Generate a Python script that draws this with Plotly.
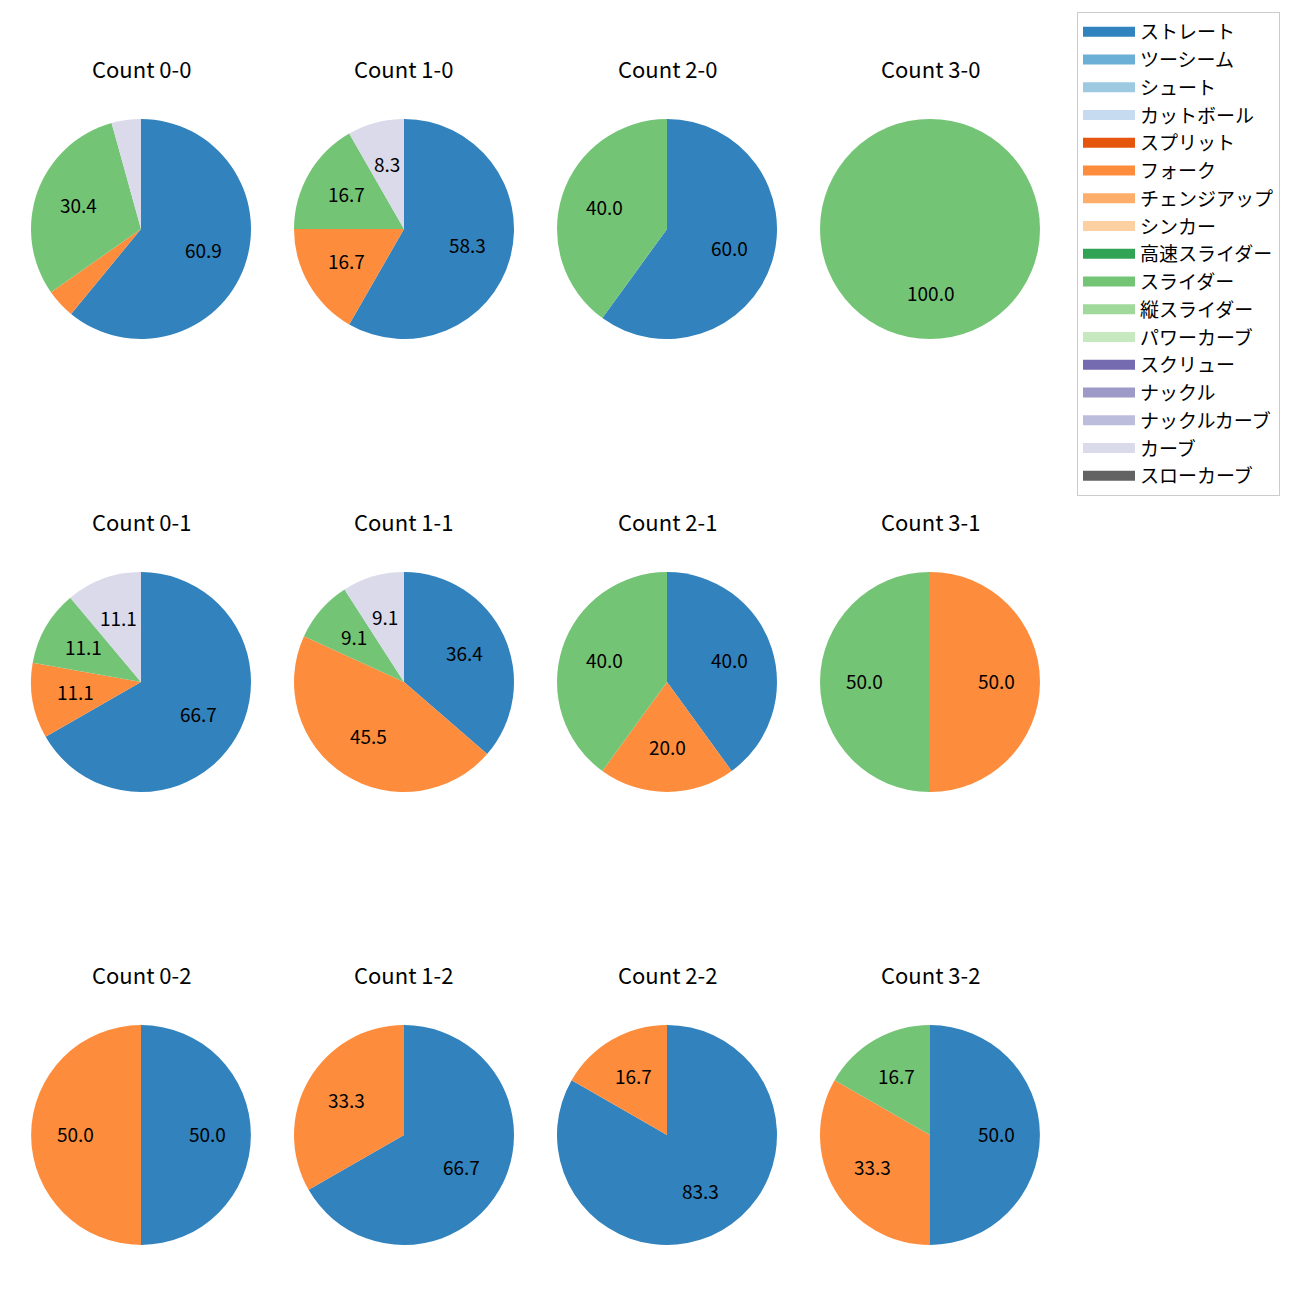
import math
import plotly.graph_objects as go

# ---------------- data ----------------
pitch_types = ["ストレート", "ツーシーム", "シュート", "カットボール", "スプリット", "フォーク",
               "チェンジアップ", "シンカー", "高速スライダー", "スライダー", "縦スライダー",
               "パワーカーブ", "スクリュー", "ナックル", "ナックルカーブ", "カーブ", "スローカーブ"]
pitch_colors = ["#3182bd", "#6baed6", "#9ecae1", "#c6dbef", "#e6550d", "#fd8d3c",
                "#fdae6b", "#fdd0a2", "#31a354", "#74c476", "#a1d99b", "#c7e9c0",
                "#756bb1", "#9e9ac8", "#bcbddc", "#dadaeb", "#636363"]

count_titles = ["Count 0-0", "Count 1-0", "Count 2-0", "Count 3-0",
                "Count 0-1", "Count 1-1", "Count 2-1", "Count 3-1",
                "Count 0-2", "Count 1-2", "Count 2-2", "Count 3-2"]

labels_00 = ["ストレート", "フォーク", "スライダー", "カーブ"]
values_00 = [60.9, 4.3, 30.4, 4.3]
labels_10 = ["ストレート", "フォーク", "スライダー", "カーブ"]
values_10 = [58.3, 16.7, 16.7, 8.3]
labels_20 = ["ストレート", "スライダー"]
values_20 = [60.0, 40.0]
labels_30 = ["スライダー"]
values_30 = [100.0]
labels_01 = ["ストレート", "フォーク", "スライダー", "カーブ"]
values_01 = [66.7, 11.1, 11.1, 11.1]
labels_11 = ["ストレート", "フォーク", "スライダー", "カーブ"]
values_11 = [36.4, 45.5, 9.1, 9.1]
labels_21 = ["ストレート", "フォーク", "スライダー"]
values_21 = [40.0, 20.0, 40.0]
labels_31 = ["フォーク", "スライダー"]
values_31 = [50.0, 50.0]
labels_02 = ["ストレート", "フォーク"]
values_02 = [50.0, 50.0]
labels_12 = ["ストレート", "フォーク"]
values_12 = [66.7, 33.3]
labels_22 = ["ストレート", "フォーク"]
values_22 = [83.3, 16.7]
labels_32 = ["ストレート", "フォーク", "スライダー"]
values_32 = [50.0, 33.3, 16.7]

all_labels = [labels_00, labels_10, labels_20, labels_30,
              labels_01, labels_11, labels_21, labels_31,
              labels_02, labels_12, labels_22, labels_32]
all_values = [values_00, values_10, values_20, values_30,
              values_01, values_11, values_21, values_31,
              values_02, values_12, values_22, values_32]

# ---------------- layout ----------------
W = H = 1300
FONT = "Noto Sans CJK JP"
col_cx = [141, 404, 667, 930]
row_cy = [229, 682, 1135]
R = 110
color_map = dict(zip(pitch_types, pitch_colors))

fig = go.Figure()
annotations = []

for i, (labs, vals) in enumerate(zip(all_labels, all_values)):
    r_i, c_i = divmod(i, 4)
    cx, cy = col_cx[c_i], row_cy[r_i]
    fig.add_trace(go.Pie(
        labels=labs, values=vals, sort=False, direction="clockwise", rotation=0,
        marker=dict(colors=[color_map[l] for l in labs], line=dict(width=0)),
        textinfo="none", hoverinfo="label+percent", showlegend=False,
        domain=dict(x=[(cx - R) / W, (cx + R) / W], y=[1 - (cy + R) / H, 1 - (cy - R) / H]),
    ))
    # title
    annotations.append(dict(
        text=count_titles[i], x=cx / W, y=1 - (cy - R - 50) / H, xref="paper", yref="paper",
        showarrow=False, xanchor="center", yanchor="middle", yshift=1,
        font=dict(family=FONT, size=22, color="black")))
    # percentage labels at 0.6 radius
    total = sum(vals)
    cum = 0.0
    for v in vals:
        pct = 100 * v / total
        mid = cum + v / 2
        cum += v
        if pct < 5:
            continue
        ang = math.radians(90 - 360 * mid / total)
        px = cx + 0.6 * R * math.cos(ang)
        py = cy - 0.6 * R * math.sin(ang)
        annotations.append(dict(
            text=f"{v:.1f}", x=px / W, y=1 - py / H, xref="paper", yref="paper",
            showarrow=False, xanchor="center", yanchor="middle", yshift=2,
            font=dict(family=FONT, size=19, color="black")))

# legend entries via dummy line traces
for name, col in zip(pitch_types, pitch_colors):
    fig.add_trace(go.Scatter(
        x=[None], y=[None], mode="lines", name=name, legendgroup=name,
        line=dict(color=col, width=13), showlegend=True, hoverinfo="skip"))

fig.update_layout(
    width=W, height=H,
    margin=dict(l=0, r=0, t=0, b=0),
    paper_bgcolor="white", plot_bgcolor="white",
    font=dict(family=FONT, size=19, color="black"),
    xaxis=dict(visible=False), yaxis=dict(visible=False),
    annotations=annotations,
    legend=dict(
        x=1077 / W, y=1 - 12 / H, xanchor="left", yanchor="top",
        bgcolor="white", bordercolor="#cccccc", borderwidth=1,
        traceorder="grouped", tracegroupgap=0.05, itemwidth=52,
        font=dict(family=FONT, size=19, color="black"),
    ),
    showlegend=True,
)

fig.write_html("out.html", config={"displayModeBar": False},
               post_script="document.body.style.margin='0px';")
